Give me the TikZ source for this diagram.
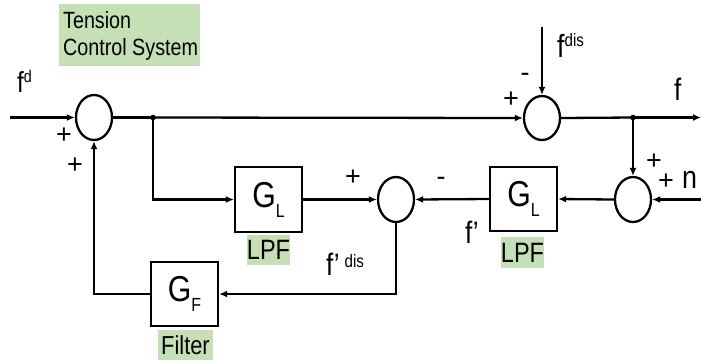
\documentclass[tikz,border=0pt]{standalone}
\usepackage{fontspec}
\setmainfont{Liberation Sans}[FakeStretch=0.84]
\newfontfamily\plainsans{Liberation Sans}
\usetikzlibrary{shapes.geometric,arrows.meta}
\definecolor{lgreen}{HTML}{C5E0B4}
\newcommand{\fsz}[1]{\fontsize{#1}{#1}\selectfont}
\newcommand{\blocktext}[2]{{\fsz{36}#1}\raisebox{-10pt}{\fsz{19}#2}}
\begin{document}
\begin{tikzpicture}[x=1pt,y=-1pt,line width=2.3pt,
  >={Latex[length=8pt,width=7pt]},
  sumnode/.style={ellipse,draw,line width=2.3pt,minimum width=36pt,minimum height=45pt,inner sep=0pt},
  blk/.style={rectangle,draw,line width=2.3pt,minimum width=67pt,minimum height=64pt,inner sep=0pt},
  lbl/.style={inner sep=0pt,anchor=base west},
  sign/.style={inner sep=0pt,font=\plainsans\fsz{27}},
  tagbox/.style={fill=lgreen,inner sep=0pt,font=\fsz{28}}]
\useasboundingbox (0,0) rectangle (701,360);
\fill[white] (0,0) rectangle (701,360);

% title
\fill[lgreen] (59,4) rectangle (200,66);
\node[lbl] (t1) at (62,28) {\fsz{23.5}Tension};
\node[lbl] (t2) at (62,55) {\fsz{23.5}Control System};

% summing junctions
\node[sumnode] (s1) at (94,117.5) {};
\node[sumnode,minimum height=44pt] (s2) at (542,118) {};
\node[sumnode] (s3) at (633,199.5) {};
\node[sumnode] (s4) at (396,199.5) {};

% blocks
\node[blk,minimum height=65pt] (gl1) at (268.5,199.5) {\blocktext{G}{L}};
\node[blk] (gl2) at (523.5,199) {\blocktext{G}{L}};
\node[blk] (gf) at (184.5,294) {\blocktext{G}{F}};

% tags
\node[tagbox,minimum width=41pt,minimum height=30pt] (lpf1) at (268.5,250) {LPF};
\node[tagbox,minimum width=41pt,minimum height=31pt] (lpf2) at (522.5,252.5) {LPF};
\node[tagbox,font=\fsz{26},minimum width=55pt,minimum height=30pt] (filt) at (185.5,345) {Filter};

% coordinates
\coordinate (in) at (10,117.5);
\coordinate (j1) at (153,117.5);
\coordinate (j2) at (633,117.5);
\coordinate (out) at (701,117.5);
\coordinate (fdtop) at (542,27);
\coordinate (nin) at (701,199.5);

% connectors
\draw[->] (in) -- (s1.west);
\draw (s1.east) -- (j1);
\draw[->] (j1) -- (s2.west);
\draw[->] (fdtop) -- (s2.north);
\draw (s2.east) -- (j2);
\draw[->] (j2) -- (out);
\draw[->] (j2) -- (s3.north);
\draw[->] (nin) -- (s3.east);
\draw[->] (s3.west) -- (gl2.east);
\draw[->] (gl2.west) -- (s4.east);
\draw[->] (j1) |- (gl1.west);
\draw[->] (gl1.east) -- (s4.west);
\draw[->] (s4.south) |- (gf.east);
\draw[->] (gf.west) -| (s1.south);
\fill (j1) circle (2.8pt);
\fill (j2) circle (2.8pt);

% labels
\node[lbl] (lfd) at (16,92) {\fsz{29}f\raisebox{10pt}{\fsz{17}d}};
\node[lbl] (lfdis) at (556,57) {\fsz{32}f\raisebox{11pt}{\fsz{18}dis}};
\node[lbl] (lf) at (673,100) {\fsz{31}f};
\node[lbl] (ln) at (681,188) {\fsz{32}n};
\node[lbl] (lfp) at (464,243) {\fsz{31}f’};
\node[lbl] (lfpd) at (325,275) {\fsz{31}f’\hspace{5pt}\raisebox{8pt}{\fsz{18}dis}};

% signs
\node[sign] (p1) at (64,136) {+};
\node[sign] (p2) at (75,166) {+};
\node[sign] (p3) at (511,100) {+};
\node[sign] (m1) at (525,77) {-};
\node[sign] (p4) at (654,162) {+};
\node[sign] (p5) at (666,182) {+};
\node[sign] (p6) at (353,178) {+};
\node[sign] (m2) at (441,181) {-};
\end{tikzpicture}
\end{document}
